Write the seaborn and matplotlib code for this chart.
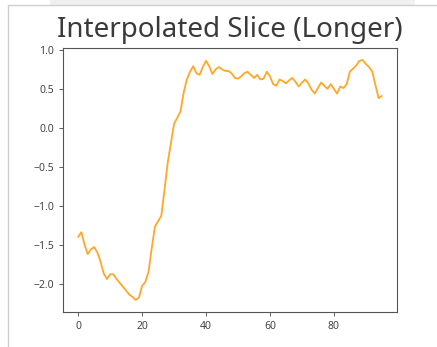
import numpy as np
import pandas as pd
import matplotlib
matplotlib.use("Agg")
import matplotlib.pyplot as plt
import seaborn as sns
from matplotlib.lines import Line2D
from matplotlib.patches import Rectangle

# Data
x_index = list(range(96))
values = [
    -1.40, -1.34, -1.50, -1.62, -1.56, -1.53, -1.60, -1.72, -1.87, -1.94,
    -1.88, -1.88, -1.94, -1.99, -2.04, -2.09, -2.14, -2.17, -2.21, -2.18,
    -2.03, -1.98, -1.85, -1.55, -1.27, -1.20, -1.13, -0.80, -0.45, -0.20,
    0.05, 0.13, 0.21, 0.45, 0.62, 0.72, 0.79, 0.70, 0.68, 0.78,
    0.86, 0.79, 0.69, 0.75, 0.78, 0.75, 0.73, 0.73, 0.70, 0.64,
    0.63, 0.66, 0.70, 0.72, 0.68, 0.64, 0.68, 0.62, 0.63, 0.72,
    0.66, 0.56, 0.54, 0.62, 0.60, 0.57, 0.61, 0.64, 0.59, 0.53,
    0.58, 0.62, 0.57, 0.49, 0.44, 0.51, 0.58, 0.54, 0.50, 0.56,
    0.50, 0.44, 0.53, 0.51, 0.56, 0.72, 0.76, 0.80, 0.86, 0.87,
    0.82, 0.78, 0.72, 0.55, 0.38, 0.41,
]
title_text = "Interpolated Slice (Longer)"

sns.set_style("ticks")
plt.rcParams['font.family'] = ['Noto Sans', 'DejaVu Sans']

df = pd.DataFrame({"x": x_index, "y": values})

fig = plt.figure(figsize=(4.37, 3.47), dpi=100)
ax = fig.add_axes([63 / 437, 1 - 312 / 347, (397 - 63) / 437, (312 - 48) / 347])

sns.lineplot(data=df, x="x", y="y", ax=ax, color="#FFA726", linewidth=1.3)

ax.set_xlabel("")
ax.set_ylabel("")
ax.set_xticks([0, 20, 40, 60, 80])
ax.set_yticks([-2.0, -1.5, -1.0, -0.5, 0.0, 0.5, 1.0])
ax.tick_params(axis="both", labelsize=7.5, colors="#444444", length=3, width=0.6)
for s in ax.spines.values():
    s.set_color("#555555")
    s.set_linewidth(0.8)
    s.set_visible(True)
ax.set_title(title_text, fontsize=20, color="#3a3a3a", pad=8)

# screenshot-style frame
fig.add_artist(Rectangle((50 / 437, 1 - 5 / 347), (415 - 50) / 437, 5 / 347,
                         transform=fig.transFigure, facecolor="#f0f0f0", edgecolor="none"))
fig.add_artist(Line2D([8 / 437, 8 / 437], [0, 1 - 5 / 347], transform=fig.transFigure,
                      color="#cfcfcf", linewidth=1))
fig.add_artist(Line2D([8 / 437, 1], [1 - 5 / 347, 1 - 5 / 347], transform=fig.transFigure,
                      color="#cfcfcf", linewidth=1))

fig.savefig("out.png", dpi=100)
